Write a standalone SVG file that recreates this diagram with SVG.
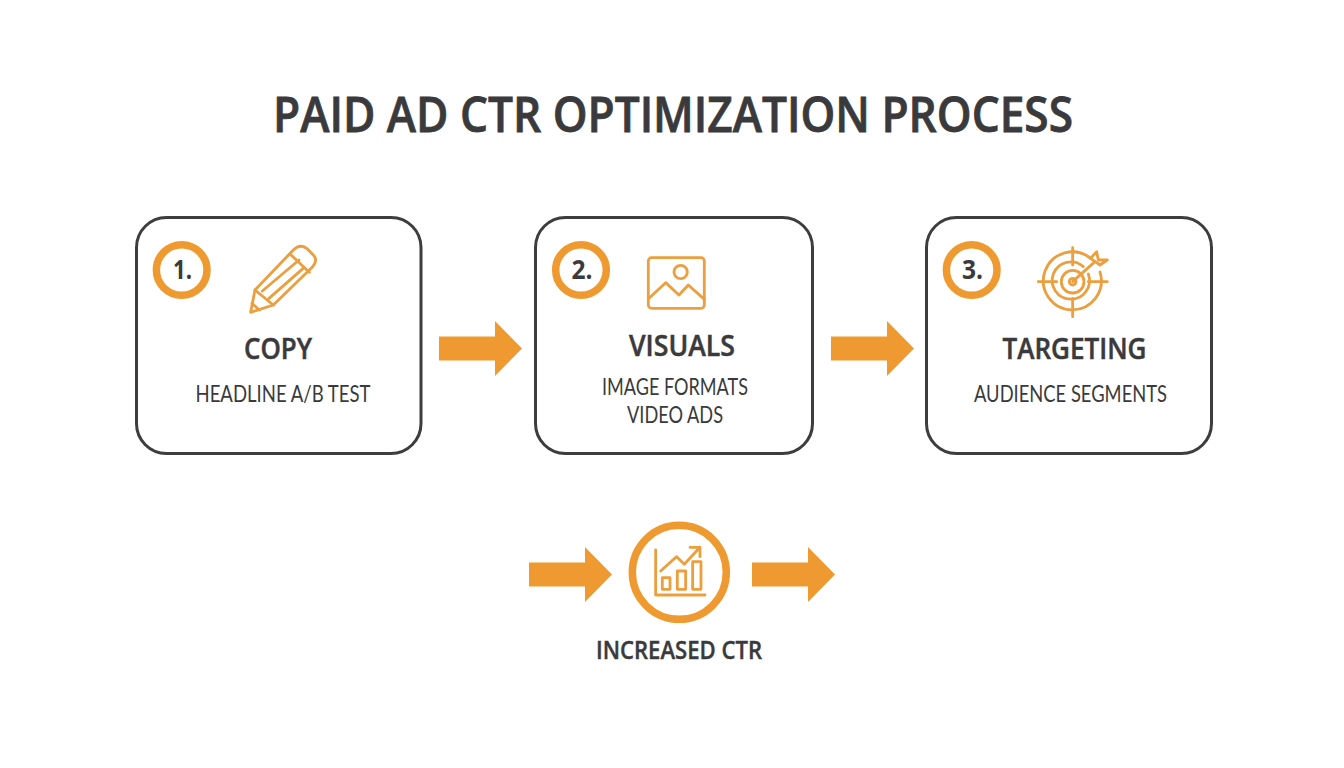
<svg xmlns="http://www.w3.org/2000/svg" width="1344" height="768" viewBox="0 0 1344 768">
<style>
text{font-family:"Open Sans","Noto Sans","Liberation Sans",sans-serif;fill:#3a3a3c}
.title{font-size:49px;font-weight:600;stroke:#3a3a3c;stroke-width:.8px}
.head{font-size:29px;font-weight:600;stroke:#3a3a3c;stroke-width:.5px}
.sub{font-family:"Lato","Open Sans","Liberation Sans",sans-serif;font-size:22.500px;font-weight:400}
.num{font-size:26px;font-weight:700}
.out{font-size:24.500px;font-weight:600;stroke:#3a3a3c;stroke-width:.4px}
.box{fill:#fff;stroke:#3d3d3d;stroke-width:3}
.ring{fill:#fff;stroke:#ee9a31;stroke-width:7.500}
.ic{fill:none;stroke:#eb9f3e;stroke-width:8.500;stroke-linejoin:round;stroke-linecap:round}
.arrow{fill:#ee9a31}
</style>
<defs><path id="arr" class="arrow" d="M0 -12H56V-27.500L83 0L56 27.500V12H0Z"/></defs>
<rect width="1344" height="768" fill="#fff"/>
<text id="title" class="title" x="273" y="132" textLength="800" lengthAdjust="spacingAndGlyphs">PAID AD CTR OPTIMIZATION PROCESS</text>
<g id="connectors">
<use href="#arr" x="439" y="348.500"/>
<use href="#arr" x="831" y="348.500"/>
<use href="#arr" x="529" y="574.500"/>
<use href="#arr" x="752" y="574.500"/>
</g>
<g id="node-copy">
<rect class="box" x="136.500" y="217.500" width="284.500" height="236" rx="30"/>
<circle class="ring" cx="181.700" cy="270" r="25.300"/>
<text class="num" x="173" y="279" textLength="19" lengthAdjust="spacingAndGlyphs">1.</text>
<g class="ic" transform="translate(130 210) scale(.3333)">
<path d="M362 307L375 240L490 120Q510 100 530 115L550 135Q565 150 548 170L430 285Z"/>
<path d="M480 132L538 187M375 240L430 285M397 243L507 150M417 265L523 172M366 280L388 300"/>
</g>
<text class="head" x="244" y="359" textLength="68" lengthAdjust="spacingAndGlyphs">COPY</text>
<text class="sub" x="195.500" y="402" textLength="175" lengthAdjust="spacingAndGlyphs">HEADLINE A/B TEST</text>
</g>
<g id="node-visuals">
<rect class="box" x="535.500" y="217.500" width="277" height="236" rx="30"/>
<circle class="ring" cx="581" cy="270" r="25.300"/>
<text class="num" x="571.500" y="279" textLength="21" lengthAdjust="spacingAndGlyphs">2.</text>
<g class="ic" transform="translate(530 210) scale(.3333)">
<rect x="355" y="143" width="168" height="152" rx="10"/>
<circle cx="452" cy="186" r="20"/>
<path d="M357 265L407 218L447 255L475 225L523 268"/>
</g>
<text class="head" x="629" y="356" textLength="106" lengthAdjust="spacingAndGlyphs">VISUALS</text>
<text class="sub" x="602" y="395" textLength="146" lengthAdjust="spacingAndGlyphs">IMAGE FORMATS</text>
<text class="sub" x="627" y="423" textLength="96" lengthAdjust="spacingAndGlyphs">VIDEO ADS</text>
</g>
<g id="node-targeting">
<rect class="box" x="926.500" y="217.500" width="285" height="236" rx="30"/>
<circle class="ring" cx="971.700" cy="270" r="25.300"/>
<text class="num" x="962" y="279" textLength="21" lengthAdjust="spacingAndGlyphs">3.</text>
<g class="ic" transform="translate(920 210) scale(.3333)">
<path d="M512 145A87 87 0 1 0 540 186"/>
<path d="M490 170A56 56 0 1 0 505 192"/>
<circle cx="458" cy="215" r="34"/>
<circle cx="458" cy="215" r="10"/>
<path d="M355 215H410M505 215H562M458 113V165M458 265V320M458 215L525 155M512 145L530 125L535 150L562 150L540 165L512 145"/>
</g>
<text class="head" x="1002.500" y="359" textLength="144" lengthAdjust="spacingAndGlyphs">TARGETING</text>
<text class="sub" x="974" y="402" textLength="193" lengthAdjust="spacingAndGlyphs">AUDIENCE SEGMENTS</text>
</g>
<g id="node-result">
<circle cx="679.300" cy="572.300" r="47" fill="#fff" stroke="#ee9a31" stroke-width="7.500"/>
<g class="ic" transform="translate(520 510) scale(.3333)">
<path d="M407 120V255H555"/>
<rect x="427" y="203" width="23" height="35"/>
<rect x="472" y="183" width="25" height="55"/>
<rect x="518" y="155" width="25" height="83"/>
<path d="M422 183L470 140L493 163L540 112M510 112H540V140"/>
</g>
<text class="out" x="596" y="659" textLength="166" lengthAdjust="spacingAndGlyphs">INCREASED CTR</text>
</g>
</svg>
